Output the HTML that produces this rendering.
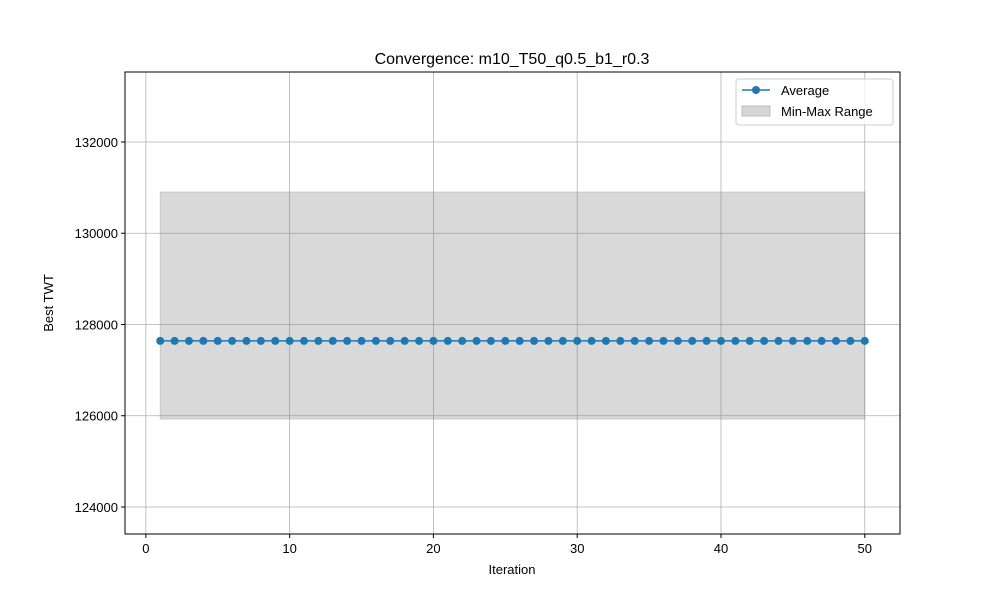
<!DOCTYPE html>
<html><head><meta charset="utf-8"><style>
body{margin:0;background:#fff;font-family:"Liberation Sans","DejaVu Sans",sans-serif;}
</style></head><body>
<svg id="chart" width="1000" height="600" xmlns="http://www.w3.org/2000/svg">
<rect width="1000" height="600" fill="#fff"/>
<g id="grid"></g>
<g id="band"></g>
<g id="series"></g>
<rect x="125" y="72" width="775" height="462" fill="none" stroke="#000" stroke-width="1"/>
<g id="ticks" font-size="13" fill="#000"></g>
<text x="512" y="64" text-anchor="middle" font-size="16">Convergence: m10_T50_q0.5_b1_r0.3</text>
<text x="512" y="574" text-anchor="middle" font-size="13">Iteration</text>
<text transform="translate(53,303) rotate(-90)" text-anchor="middle" font-size="13">Best TWT</text>
<g>
<rect x="736" y="79" width="157" height="46" rx="3" fill="#fff" fill-opacity="0.8" stroke="#ccc"/>
<g>
<line x1="742" y1="90" x2="770" y2="90" stroke="#1f77b4" stroke-width="1.5"/>
<circle cx="756" cy="90" r="4" fill="#1f77b4"/>
<text x="781" y="95" font-size="13">Average</text>
</g>
<g>
<rect x="742" y="106" width="28" height="10" fill="#d6d6d6" stroke="#bdbdbd"/>
<text x="781" y="116" font-size="13">Min-Max Range</text>
</g>
</g>
</svg>
<script>
const iterations = Array.from({length:50},(_,i)=>i+1);
const averageValues = [127640,127640,127640,127640,127640,127640,127640,127640,127640,127640,127640,127640,127640,127640,127640,127640,127640,127640,127640,127640,127640,127640,127640,127640,127640,127640,127640,127640,127640,127640,127640,127640,127640,127640,127640,127640,127640,127640,127640,127640,127640,127640,127640,127640,127640,127640,127640,127640,127640,127640];
const minValues = Array(50).fill(125925);
const maxValues = Array(50).fill(130905);
const xTicks = [0,10,20,30,40,50];
const yTicks = [124000,126000,128000,130000,132000];

const X0=125,X1=900,Y0=72,Y1=534;
const xMin=-1.45,xMax=52.45,yMin=123408,yMax=133534;
const sx=v=>X0+(v-xMin)/(xMax-xMin)*(X1-X0);
const sy=v=>Y1-(v-yMin)/(yMax-yMin)*(Y1-Y0);
const NS="http://www.w3.org/2000/svg";
function mk(tag,attrs,parent){const e=document.createElementNS(NS,tag);for(const k in attrs)e.setAttribute(k,attrs[k]);parent.appendChild(e);return e;}
const grid=document.getElementById('grid'),ticks=document.getElementById('ticks');
xTicks.forEach(t=>{const x=sx(t);
const g=mk('line',{x1:x,x2:x,y1:Y0,y2:Y1,stroke:'#b0b0b0','stroke-width':0.8},grid);


mk('line',{x1:x,x2:x,y1:Y1,y2:Y1+4,stroke:'#000'},ticks);
const tx=mk('text',{x:x,y:Y1+19,'text-anchor':'middle'},ticks);tx.textContent=t;

});
yTicks.forEach(t=>{const y=sy(t);
const g=mk('line',{x1:X0,x2:X1,y1:y,y2:y,stroke:'#b0b0b0','stroke-width':0.8},grid);


mk('line',{x1:X0-4,x2:X0,y1:y,y2:y,stroke:'#000'},ticks);
const tx=mk('text',{x:X0-7,y:y+5,'text-anchor':'end'},ticks);tx.textContent=t;

});
let pts=iterations.map((v,i)=>sx(v)+','+sy(maxValues[i]));
for(let i=iterations.length-1;i>=0;i--)pts.push(sx(iterations[i])+','+sy(minValues[i]));
const band=mk('polygon',{points:pts.join(' '),fill:'#808080','fill-opacity':0.3,stroke:'#808080','stroke-opacity':0.3},document.getElementById('band'));


const ser=document.getElementById('series');
const line=mk('polyline',{points:iterations.map((v,i)=>sx(v)+','+sy(averageValues[i])).join(' '),fill:'none',stroke:'#1f77b4','stroke-width':1.5},ser);


iterations.forEach((v,i)=>{const c=mk('circle',{cx:sx(v),cy:sy(averageValues[i]),r:4,fill:'#1f77b4'},ser);

});
</script>
</body></html>
